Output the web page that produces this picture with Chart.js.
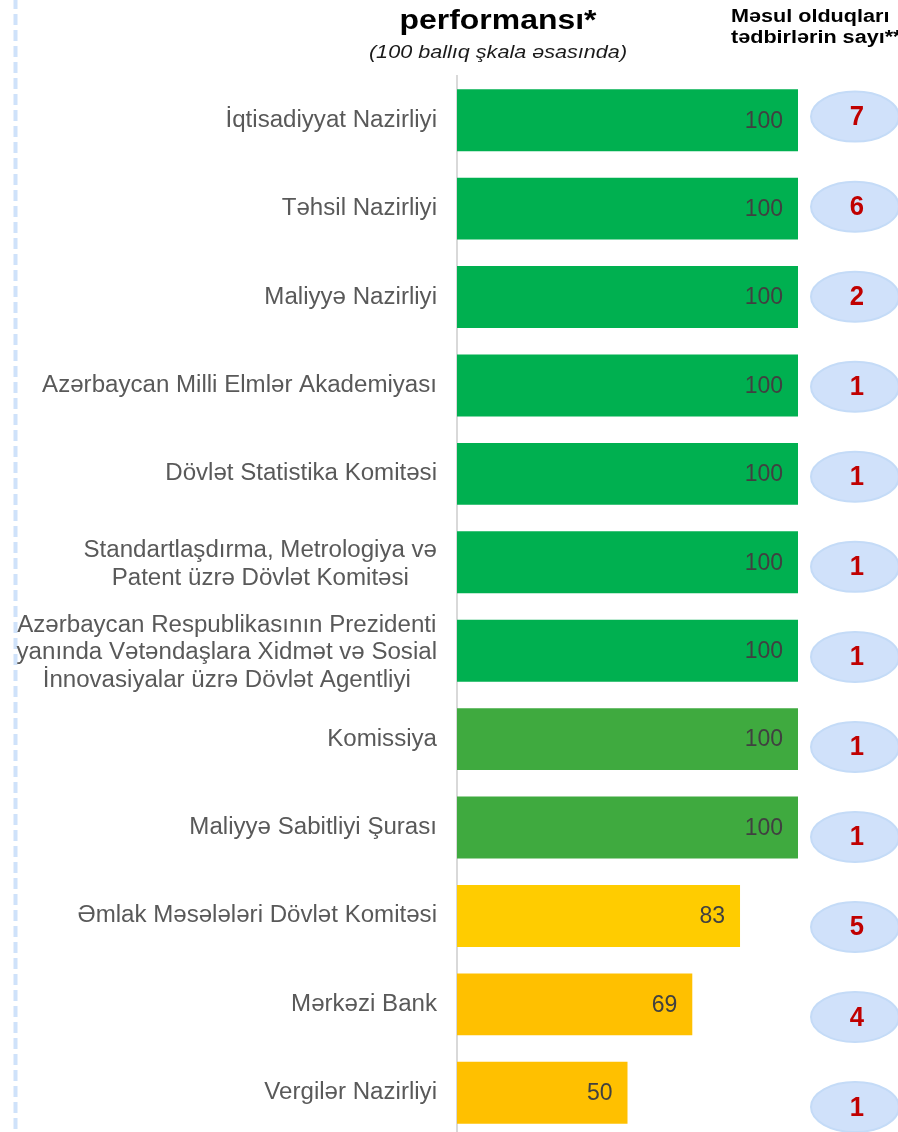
<!DOCTYPE html>
<html>
<head>
<meta charset="utf-8">
<script src="https://cdn.jsdelivr.net/npm/chart.js@4/dist/chart.umd.min.js"></script>
<style>
html,body{margin:0;padding:0;background:#fff;overflow:hidden;}
#wrap{position:relative;width:898px;height:1140px;}
</style>
</head>
<body>
<div id="wrap"><canvas id="c"></canvas></div>
<script>
const categories = [
  ["İqtisadiyyat Nazirliyi"],
  ["Təhsil Nazirliyi"],
  ["Maliyyə Nazirliyi"],
  ["Azərbaycan Milli Elmlər Akademiyası"],
  ["Dövlət Statistika Komitəsi"],
  ["Standartlaşdırma, Metrologiya və", "Patent üzrə Dövlət Komitəsi"],
  ["Azərbaycan Respublikasının Prezidenti", "yanında Vətəndaşlara Xidmət və Sosial", "İnnovasiyalar üzrə Dövlət Agentliyi"],
  ["Komissiya"],
  ["Maliyyə Sabitliyi Şurası"],
  ["Əmlak Məsələləri Dövlət Komitəsi"],
  ["Mərkəzi Bank"],
  ["Vergilər Nazirliyi"]
];
const performance = [100, 100, 100, 100, 100, 100, 100, 100, 100, 83, 69, 50];
const measureCounts = [7, 6, 2, 1, 1, 1, 1, 1, 1, 5, 4, 1];
const titleText = "performansı*";
const subtitleText = "(100 ballıq şkala əsasında)";
const rightHeader = ["Məsul olduqları", "tədbirlərin sayı**"];

const barColors = ["#00B050","#00B050","#00B050","#00B050","#00B050","#00B050","#00B050",
                   "#3FAA3F","#3FAA3F","#FFCC00","#FFC000","#FFC000"];

const FONT = "'Liberation Sans', Arial, sans-serif";

function drawText(ctx, text, x, y, font, color, align, sx) {
  ctx.save();
  ctx.font = font;
  ctx.fillStyle = color;
  ctx.textAlign = align;
  ctx.translate(x, y);
  ctx.scale(sx, 1);
  ctx.fillText(text, 0, 0);
  ctx.restore();
}

const decor = {
  id: 'decor',
  afterDraw(chart) {
    const ctx = chart.ctx;
    const y = chart.scales.y;
    const meta = chart.getDatasetMeta(0);
    ctx.save();
    // dashed left line
    ctx.strokeStyle = '#CFE2FA';
    ctx.lineWidth = 4;
    ctx.setLineDash([11, 5]);
    ctx.beginPath();
    ctx.moveTo(15.5, -2);
    ctx.lineTo(15.5, 1140);
    ctx.stroke();
    ctx.setLineDash([]);

    // titles
    ctx.textBaseline = 'alphabetic';
    drawText(ctx, titleText, 498, 29, "bold 28px " + FONT, '#000', 'center', 1.14);
    drawText(ctx, subtitleText, 498, 58, "italic 18px " + FONT, '#1a1a1a', 'center', 1.2);
    drawText(ctx, rightHeader[0], 731, 22, "bold 18px " + FONT, '#000', 'left', 1.2);
    drawText(ctx, rightHeader[1], 731, 43, "bold 18px " + FONT, '#000', 'left', 1.2);

    // category labels (block right-aligned, lines centered)
    ctx.textBaseline = 'middle';
    const lfont = "23.5px " + FONT;
    const lsx = 1.025;
    ctx.font = lfont;
    const lh = 27.5;
    categories.forEach((lines, i) => {
      const cy = y.getPixelForValue(i) + (lines.length > 1 ? 2 : 0);
      let w = 0;
      lines.forEach(l => { w = Math.max(w, ctx.measureText(l).width * lsx); });
      const cx = 437 - w / 2;
      const start = cy - (lines.length - 1) * lh / 2;
      lines.forEach((l, k) => drawText(ctx, l, cx, start + k * lh, lfont, '#595959', 'center', lsx));
    });

    // value labels
    meta.data.forEach((bar, i) => {
      drawText(ctx, String(performance[i]), bar.x - 15, bar.y + 1, "23px " + FONT, '#404040', 'right', 1);
    });

    // ellipses with counts
    measureCounts.forEach((n, i) => {
      const cy = y.getPixelForValue(i) - 3.6 + 1.63 * i;
      const cx = 855;
      ctx.beginPath();
      ctx.ellipse(cx, cy, 44, 25, 0, 0, Math.PI * 2);
      ctx.fillStyle = '#D0E1FA';
      ctx.fill();
      ctx.lineWidth = 2;
      ctx.strokeStyle = '#C4DBF7';
      ctx.stroke();
      drawText(ctx, String(n), cx + 2, cy + 1, "bold 27px " + FONT, '#C00000', 'center', 0.95);
    });
    ctx.restore();
  }
};

new Chart(document.getElementById('c'), {
  type: 'bar',
  data: {
    labels: categories,
    datasets: [{
      data: performance,
      backgroundColor: barColors,
      borderWidth: 0,
      barPercentage: 0.70,
      categoryPercentage: 1.0
    }]
  },
  options: {
    indexAxis: 'y',
    responsive: true,
    maintainAspectRatio: false,
    animation: false,
    layout: { padding: { left: 457, right: 100, top: 76, bottom: 3 } },
    plugins: { legend: { display: false }, tooltip: { enabled: false }, title: { display: false } },
    scales: {
      x: { display: false, min: 0, max: 100 },
      y: {
        display: true,
        ticks: { display: false },
        grid: { display: false, drawTicks: false },
        border: { display: true, color: '#D9D9D9', width: 2 },
        afterFit(scale) { scale.width = 0; }
      }
    }
  },
  plugins: [decor]
});
</script>
</body>
</html>
